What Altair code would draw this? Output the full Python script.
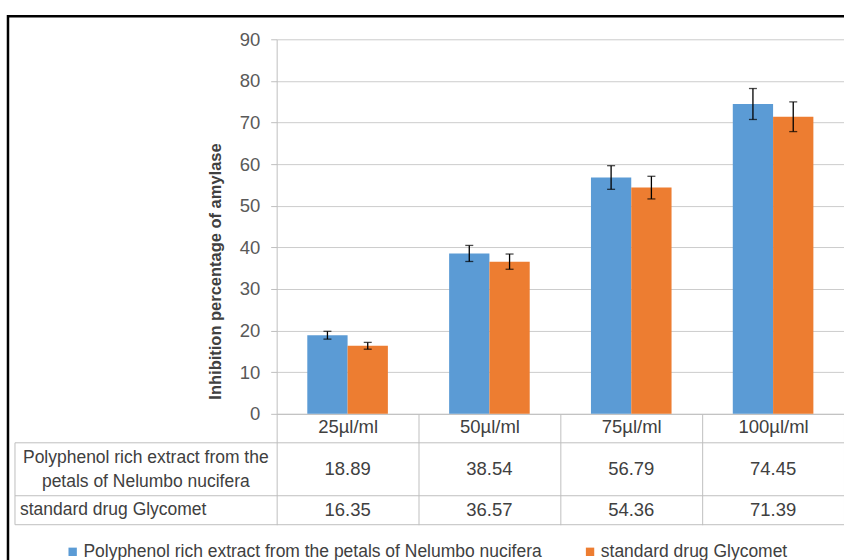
import altair as alt
import pandas as pd

categories = ["25µl/ml", "50µl/ml", "75µl/ml", "100µl/ml"]
series_names = ["Polyphenol rich extract from the petals of Nelumbo nucifera", "standard drug Glycomet"]
extract_values = [18.89, 38.54, 56.79, 74.45]
glycomet_values = [16.35, 36.57, 54.36, 71.39]
extract_err = [0.94, 1.93, 2.84, 3.72]
glycomet_err = [0.82, 1.83, 2.72, 3.57]
row1_label = ["Polyphenol rich extract from the", "petals of Nelumbo nucifera"]
row2_label = "standard drug Glycomet"
colors = ["#5B9BD5", "#ED7D31"]
y_ticks = list(range(0, 100, 10))

FONT = "Liberation Sans"
GRAY = "#bfbfbf"
TXT = "#404040"

rows = []
for s, vals, errs in [(series_names[0], extract_values, extract_err),
                      (series_names[1], glycomet_values, glycomet_err)]:
    for c, v, e in zip(categories, vals, errs):
        rows.append({"cat": c, "series": s, "value": v, "lo": v - e, "hi": v + e,
                     "label": f"{v:.2f}"})
df = pd.DataFrame(rows)

W, H = 568, 375

x_enc = alt.X("cat:N", sort=categories,
              scale=alt.Scale(domain=categories, paddingInner=0, paddingOuter=0),
              axis=alt.Axis(title=None, tickBand="extent", ticks=True, tickSize=111,
                            tickColor=GRAY, domainColor=GRAY, labelAngle=0,
                            labelFont=FONT, labelFontSize=18.5, labelColor=TXT,
                            labelPadding=-98, labelBaseline="middle", grid=False))
xo_enc = alt.XOffset("series:N", sort=series_names,
                     scale=alt.Scale(domain=series_names, paddingOuter=0.76, paddingInner=0))
y_axis = alt.Axis(values=y_ticks, title="Inhibition percentage of amylase",
                  titleFont=FONT, titleFontSize=16.5, titleFontWeight="bold",
                  titleColor=TXT, titleAngle=270, titleX=-61, titleY=232,
                  titleAlign="center", titleBaseline="middle",
                  labelFont=FONT, labelFontSize=18.5, labelColor="#595959",
                  labelPadding=11, tickSize=6, tickColor=GRAY, domainColor=GRAY,
                  gridColor="#cccccc", grid=True)

base = alt.Chart(df)

bars = base.mark_bar().encode(
    x=x_enc,
    xOffset=xo_enc,
    y=alt.Y("value:Q", scale=alt.Scale(domain=[0, 90], nice=False), axis=y_axis),
    color=alt.Color("series:N", sort=series_names,
                    scale=alt.Scale(domain=series_names, range=colors),
                    legend=alt.Legend(orient="none", legendX=-213, legendY=504,
                                      direction="horizontal", title=None,
                                      symbolType="square", symbolSize=70,
                                      symbolStrokeWidth=0, labelFont=FONT,
                                      labelFontSize=17.5, labelColor=TXT,
                                      columnPadding=39, labelOffset=2,
                                      labelLimit=700)),
)

err_rule = base.mark_rule(color="black", strokeWidth=1.3).encode(
    x=alt.X("cat:N", sort=categories), xOffset=xo_enc,
    y=alt.Y("lo:Q"), y2="hi:Q")
cap_hi = base.mark_tick(orient="horizontal", size=8, thickness=1.3, color="black").encode(
    x=alt.X("cat:N", sort=categories), xOffset=xo_enc, y=alt.Y("hi:Q"))
cap_lo = base.mark_tick(orient="horizontal", size=8, thickness=1.3, color="black").encode(
    x=alt.X("cat:N", sort=categories), xOffset=xo_enc, y=alt.Y("lo:Q"))

# data table values
vals1 = alt.Chart(df[df.series == series_names[0]]).mark_text(
    font=FONT, fontSize=18.5, color=TXT, baseline="middle").encode(
    x=alt.X("cat:N", sort=categories), y=alt.value(430), text="label:N")
vals2 = alt.Chart(df[df.series == series_names[1]]).mark_text(
    font=FONT, fontSize=18.5, color=TXT, baseline="middle").encode(
    x=alt.X("cat:N", sort=categories), y=alt.value(471), text="label:N")

one = pd.DataFrame({"k": [0]})
lab1 = alt.Chart(pd.DataFrame({"t": [row1_label]})).mark_text(
    font=FONT, fontSize=17.5, color=TXT, align="center", baseline="middle",
    lineHeight=24).encode(x=alt.value(-131), y=alt.value(419), text="t")
lab2 = alt.Chart(pd.DataFrame({"t": [row2_label]})).mark_text(
    font=FONT, fontSize=17.5, color=TXT, align="left", baseline="middle").encode(
    x=alt.value(-257), y=alt.value(471), text="t:N")

table_lines = []
for yy in [404, 457, 486]:
    table_lines.append(alt.Chart(one).mark_rule(color=GRAY, strokeWidth=1).encode(
        x=alt.value(-262), x2=alt.value(W), y=alt.value(yy)))
table_lines.append(alt.Chart(one).mark_rule(color=GRAY, strokeWidth=1).encode(
    x=alt.value(-262), y=alt.value(404), y2=alt.value(486)))

border = alt.Chart(one).mark_rect(fill=None, stroke="black", strokeWidth=2.5).encode(
    x=alt.value(-269), x2=alt.value(W + 40), y=alt.value(-23), y2=alt.value(H + 200))

chart = alt.layer(bars, err_rule, cap_hi, cap_lo, vals1, vals2, lab1, lab2,
                  *table_lines, border).properties(
    width=W, height=H,
    padding={"left": 277, "top": 39, "right": 0, "bottom": 146},
    autosize=alt.AutoSizeParams(type="none"),
).configure_view(stroke=None)

chart.save("out.html", embed_options={"renderer": "svg", "actions": False})
